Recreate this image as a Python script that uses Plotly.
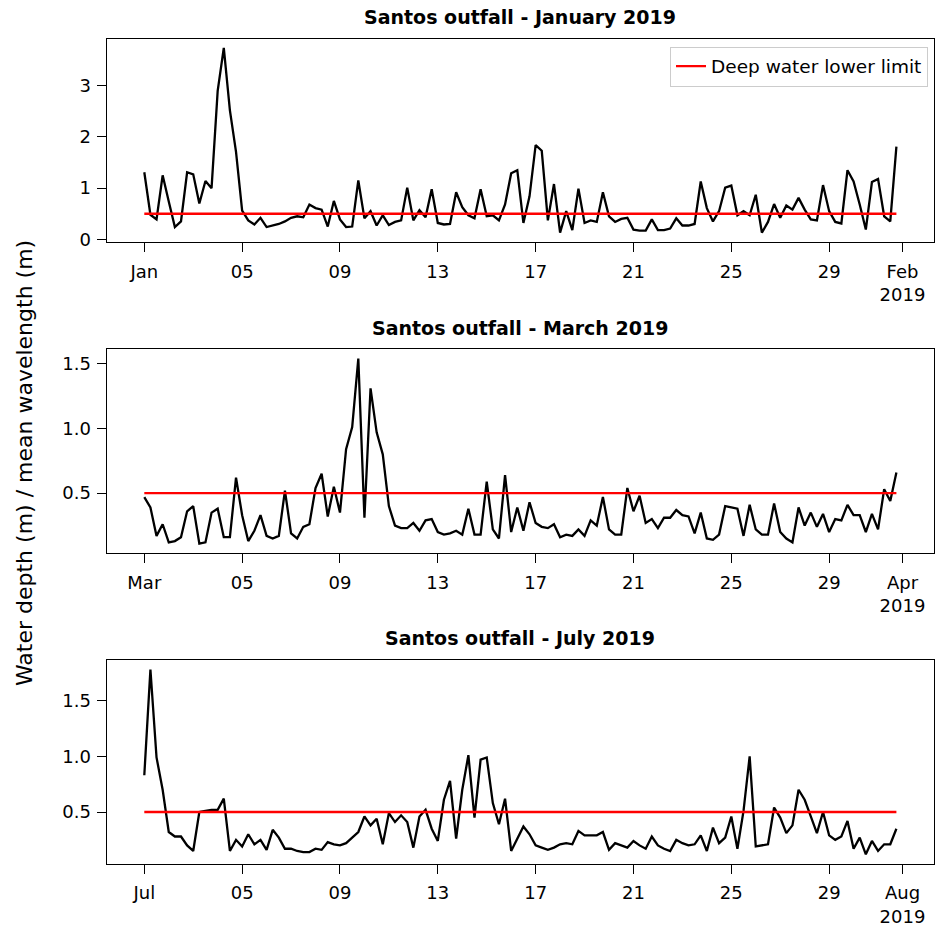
import pandas as pd
import plotly.graph_objects as go

# ---------------- data ----------------
jan_values = [1.31,0.48,0.39,1.25,0.74,0.24,0.35,1.31,1.27,0.70,
1.14,1.00,2.90,3.74,2.52,1.71,0.56,0.37,0.29,0.42,
0.24,0.27,0.30,0.35,0.42,0.45,0.43,0.68,0.61,0.58,
0.25,0.75,0.39,0.24,0.25,1.15,0.41,0.55,0.27,0.47,
0.28,0.34,0.37,1.01,0.37,0.57,0.43,0.98,0.32,0.29,
0.30,0.92,0.63,0.47,0.41,0.98,0.45,0.47,0.37,0.68,
1.29,1.35,0.32,0.84,1.84,1.73,0.37,1.08,0.13,0.55,
0.18,0.99,0.32,0.37,0.34,0.92,0.45,0.34,0.40,0.42,
0.19,0.17,0.17,0.39,0.18,0.18,0.21,0.41,0.27,0.27,
0.30,1.13,0.61,0.35,0.55,1.01,1.05,0.47,0.55,0.47,
0.87,0.13,0.34,0.69,0.42,0.66,0.58,0.81,0.58,0.39,
0.37,1.06,0.55,0.34,0.31,1.35,1.13,0.68,0.19,1.12,
1.18,0.45,0.35,1.81]

mar_values = [0.47,0.39,0.17,0.26,0.12,0.13,0.16,0.36,0.40,0.11,
0.12,0.35,0.38,0.16,0.16,0.62,0.33,0.13,0.21,0.33,
0.17,0.15,0.17,0.52,0.19,0.15,0.24,0.26,0.54,0.65,
0.32,0.55,0.35,0.84,1.01,1.54,0.31,1.31,0.97,0.80,
0.40,0.25,0.23,0.23,0.27,0.21,0.29,0.30,0.20,0.18,
0.19,0.21,0.18,0.38,0.18,0.18,0.59,0.22,0.15,0.64,
0.20,0.39,0.21,0.43,0.27,0.24,0.23,0.26,0.16,0.18,
0.17,0.22,0.17,0.29,0.25,0.47,0.22,0.18,0.18,0.54,
0.36,0.48,0.27,0.30,0.23,0.31,0.31,0.37,0.33,0.32,
0.19,0.35,0.15,0.14,0.18,0.40,0.39,0.38,0.17,0.41,
0.22,0.18,0.18,0.42,0.20,0.15,0.12,0.39,0.25,0.35,
0.24,0.34,0.20,0.30,0.29,0.41,0.33,0.33,0.20,0.34,
0.22,0.53,0.44,0.66]

jul_values = [0.83,1.78,0.99,0.70,0.32,0.28,0.28,0.20,0.15,0.50,
0.51,0.52,0.52,0.62,0.15,0.25,0.19,0.30,0.21,0.25,
0.16,0.34,0.27,0.17,0.17,0.15,0.14,0.14,0.17,0.16,
0.23,0.21,0.20,0.22,0.27,0.32,0.46,0.38,0.44,0.21,
0.49,0.41,0.47,0.41,0.18,0.46,0.52,0.35,0.24,0.61,
0.78,0.26,0.70,1.01,0.45,0.97,0.99,0.58,0.39,0.62,
0.15,0.26,0.37,0.30,0.20,0.18,0.16,0.18,0.21,0.22,
0.21,0.33,0.29,0.29,0.29,0.32,0.16,0.22,0.20,0.18,
0.24,0.20,0.17,0.28,0.20,0.17,0.15,0.25,0.22,0.20,
0.21,0.29,0.15,0.36,0.22,0.27,0.46,0.17,0.51,1.00,
0.19,0.20,0.21,0.54,0.45,0.31,0.38,0.70,0.61,0.46,
0.31,0.50,0.29,0.25,0.28,0.42,0.17,0.27,0.12,0.24,
0.15,0.21,0.21,0.35]

panel_titles = ["Santos outfall - January 2019",
                "Santos outfall - March 2019",
                "Santos outfall - July 2019"]
start_dates = ["2019-01-01", "2019-03-01", "2019-07-01"]
month_labels = [["Jan", "Feb"], ["Mar", "Apr"], ["Jul", "Aug"]]
tick_days = ["05", "09", "13", "17", "21", "25", "29"]
y_ticks = [[0, 1, 2, 3], [0.5, 1.0, 1.5], [0.5, 1.0, 1.5]]
y_tickformat = ["d", ".1f", ".1f"]
limit_value = 0.5
limit_name = "Deep water lower limit"
y_label = "Water depth (m) / mean wavelength (m)"

# ---------------- layout geometry ----------------
W, H = 936, 934
left_px, right_px = 106.7, 934.0
panels_px = [(39, 244), (352.3, 557.7), (666, 871)]
title_y_px = [17, 331, 644]

FONT = "DejaVu Sans"
fig = go.Figure()
series = [jan_values, mar_values, jul_values]

layout_axes = {}
annotations = []
for k in range(3):
    vals = series[k]
    t = pd.date_range(start_dates[k], periods=len(vals), freq="6h")
    xa = "x" if k == 0 else f"x{k+1}"
    ya = "y" if k == 0 else f"y{k+1}"
    fig.add_trace(go.Scatter(x=t, y=vals, mode="lines",
                             line=dict(color="black", width=2.3),
                             showlegend=False, xaxis=xa, yaxis=ya, hoverinfo="skip"))
    fig.add_trace(go.Scatter(x=[t[0], t[-1]], y=[limit_value, limit_value], mode="lines",
                             line=dict(color="#ff0000", width=2.3),
                             name=limit_name, showlegend=(k == 0),
                             xaxis=xa, yaxis=ya))
    # matplotlib-like 5% margins
    span = t[-1] - t[0]
    x0 = t[0] - span * 0.05
    x1 = t[-1] + span * 0.05
    vmin, vmax = min(vals), max(vals)
    vr = vmax - vmin
    s = pd.Timestamp(start_dates[k])
    tickvals = [s] + [s + pd.Timedelta(days=int(d) - 1) for d in tick_days] + [s + pd.offsets.MonthBegin(1)]
    ticktext = [month_labels[k][0]] + tick_days + [month_labels[k][1] + "<br>2019"]
    top, bot = panels_px[k]
    xkey = "xaxis" if k == 0 else f"xaxis{k+1}"
    ykey = "yaxis" if k == 0 else f"yaxis{k+1}"
    layout_axes[xkey] = dict(
        domain=[left_px / W, right_px / W], anchor=ya, type="date",
        range=[x0, x1], tickmode="array", tickvals=tickvals, ticktext=ticktext,
        showgrid=False, zeroline=False, showline=True, mirror=True,
        linecolor="black", linewidth=1.4, ticks="outside", ticklen=9,
        tickwidth=1.4, tickcolor="black", ticklabelstandoff=4,
        tickfont=dict(family=FONT, size=18, color="black"))
    layout_axes[ykey] = dict(
        domain=[1 - bot / H, 1 - top / H], anchor=xa,
        range=[vmin - 0.05 * vr, vmax + 0.05 * vr], tickmode="array",
        tickvals=y_ticks[k], tickformat=y_tickformat[k],
        showgrid=False, zeroline=False, showline=True, mirror=True,
        linecolor="black", linewidth=1.4, ticks="outside", ticklen=9,
        tickwidth=1.4, tickcolor="black", ticklabelstandoff=2,
        tickfont=dict(family=FONT, size=18, color="black"))
    annotations.append(dict(
        text="<b>" + panel_titles[k] + "</b>", x=(left_px + right_px) / 2 / W,
        y=1 - title_y_px[k] / H, xref="paper", yref="paper",
        xanchor="center", yanchor="middle", showarrow=False,
        font=dict(family=FONT, size=19, color="black")))

annotations.append(dict(
    text=y_label, x=24 / W, y=0.5, xref="paper", yref="paper",
    xanchor="center", yanchor="middle", textangle=-90, showarrow=False,
    font=dict(family=FONT, size=22, color="black")))

fig.update_layout(
    width=W, height=H, margin=dict(l=0, r=0, t=0, b=0),
    paper_bgcolor="white", plot_bgcolor="white",
    font=dict(family=FONT, color="black"),
    annotations=annotations,
    legend=dict(x=928 / W, y=1 - 47 / H, xanchor="right", yanchor="top",
                bgcolor="rgba(255,255,255,0.8)", bordercolor="#cccccc", borderwidth=1,
                font=dict(family=FONT, size=18.5, color="black")),
    **layout_axes)

fig.write_html("out.html")
